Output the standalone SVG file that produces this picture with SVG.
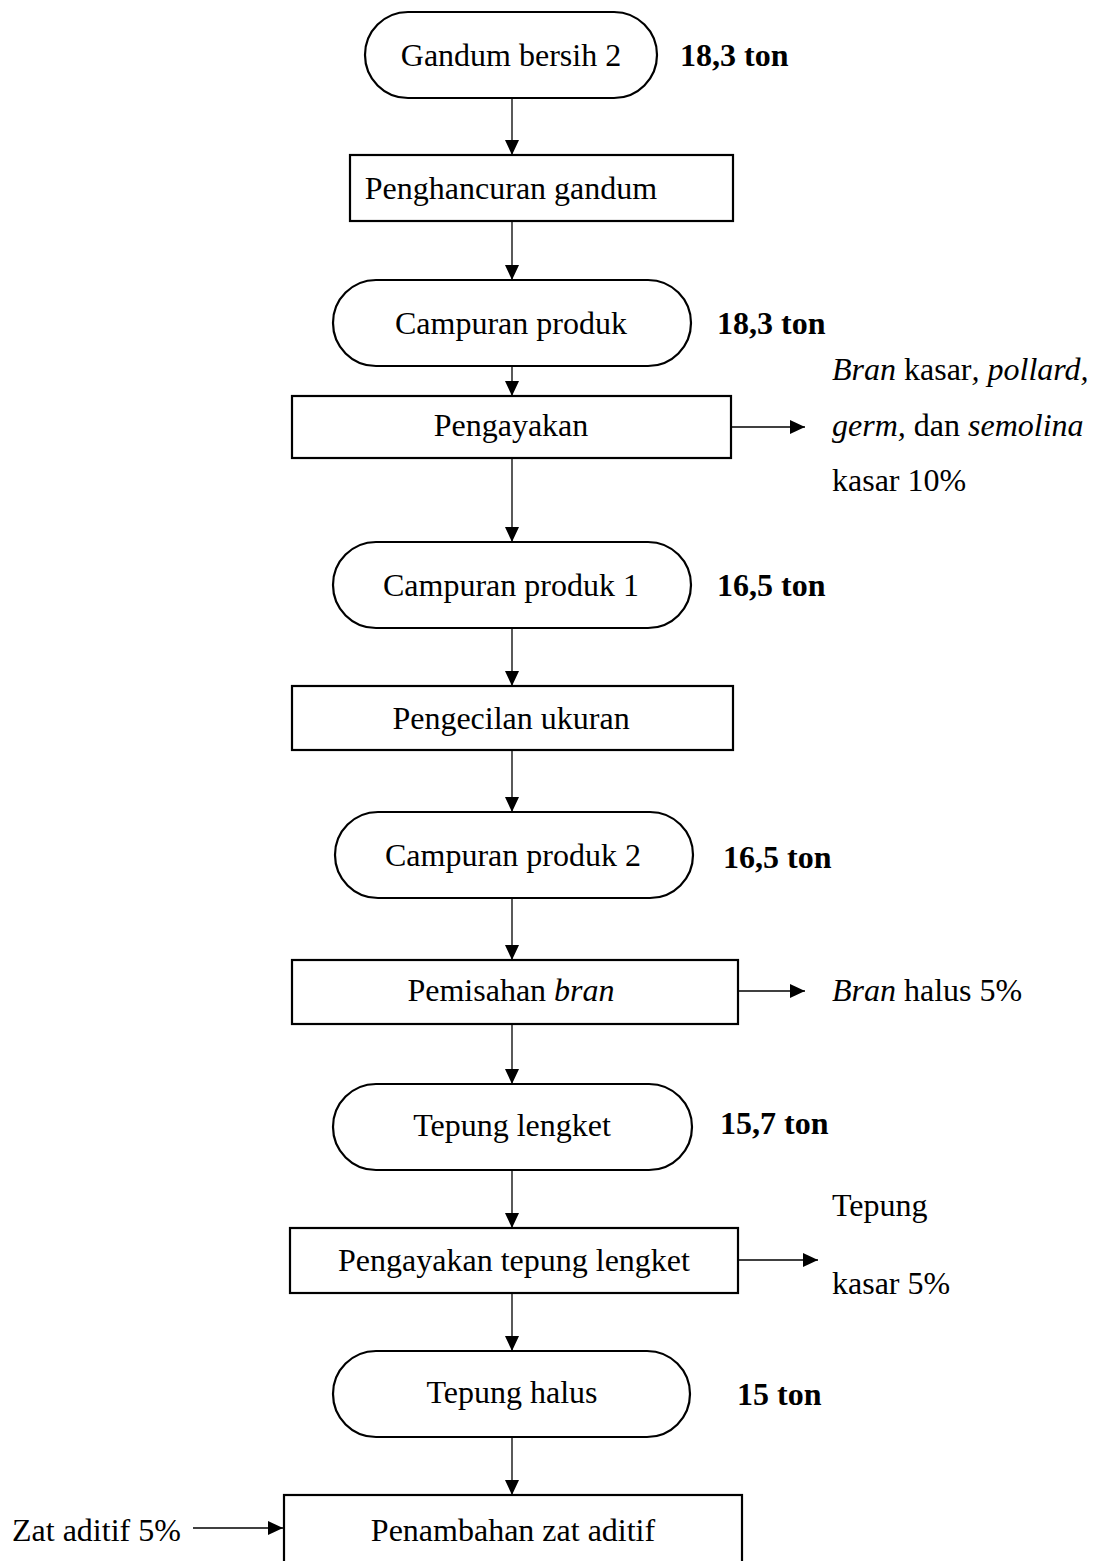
<svg xmlns="http://www.w3.org/2000/svg" width="1106" height="1561" viewBox="0 0 1106 1561">
<style>
text{font-family:"Liberation Serif","Times New Roman",serif;font-size:32px;fill:#000}
.c{text-anchor:middle}
.b{font-weight:bold}
.n{fill:#fff;stroke:#000;stroke-width:2.2}
.e{stroke:#000;stroke-width:1.3;fill:none}
</style>
<defs>
<marker id="ah" markerWidth="15" markerHeight="14" refX="15" refY="7" orient="auto" markerUnits="userSpaceOnUse">
<path d="M0,0 L15,7 L0,14 Z" fill="#000"/>
</marker>
</defs>
<rect width="1106" height="1561" fill="#fff"/>
<g id="connectors">
<line class="e" x1="512" y1="98" x2="512" y2="155" marker-end="url(#ah)"/>
<line class="e" x1="512" y1="221" x2="512" y2="280" marker-end="url(#ah)"/>
<line class="e" x1="512" y1="366" x2="512" y2="396" marker-end="url(#ah)"/>
<line class="e" x1="731" y1="427" x2="805" y2="427" marker-end="url(#ah)"/>
<line class="e" x1="512" y1="458" x2="512" y2="542" marker-end="url(#ah)"/>
<line class="e" x1="512" y1="628" x2="512" y2="686" marker-end="url(#ah)"/>
<line class="e" x1="512" y1="750" x2="512" y2="812" marker-end="url(#ah)"/>
<line class="e" x1="512" y1="898" x2="512" y2="960" marker-end="url(#ah)"/>
<line class="e" x1="738" y1="991" x2="805" y2="991" marker-end="url(#ah)"/>
<line class="e" x1="512" y1="1024" x2="512" y2="1084" marker-end="url(#ah)"/>
<line class="e" x1="512" y1="1170" x2="512" y2="1228" marker-end="url(#ah)"/>
<line class="e" x1="738" y1="1260" x2="818" y2="1260" marker-end="url(#ah)"/>
<line class="e" x1="512" y1="1293" x2="512" y2="1351" marker-end="url(#ah)"/>
<line class="e" x1="512" y1="1437" x2="512" y2="1495" marker-end="url(#ah)"/>
<line class="e" x1="193" y1="1528" x2="283" y2="1528" marker-end="url(#ah)"/>
</g>
<g id="n1"><rect class="n" x="365" y="12" width="292" height="86" rx="43"/><text class="c" x="511" y="66">Gandum bersih 2</text></g>
<g id="w1"><text class="b" x="680" y="66">18,3 ton</text></g>
<g id="n2"><rect class="n" x="350" y="155" width="383" height="66"/><text class="c" x="511" y="199">Penghancuran gandum</text></g>
<g id="n3"><rect class="n" x="333" y="280" width="358" height="86" rx="43"/><text class="c" x="511" y="334">Campuran produk</text></g>
<g id="w3"><text class="b" x="717" y="334">18,3 ton</text></g>
<g id="n4"><rect class="n" x="292" y="396" width="439" height="62"/><text class="c" x="511" y="436">Pengayakan</text></g>
<g id="o4"><text x="832" y="380"><tspan font-style="italic">Bran</tspan> kasar<tspan font-style="italic">, pollard,</tspan></text><text x="832" y="436"><tspan font-style="italic">germ,</tspan> dan <tspan font-style="italic">semolina</tspan></text><text x="832" y="491">kasar 10%</text></g>
<g id="n5"><rect class="n" x="333" y="542" width="358" height="86" rx="43"/><text class="c" x="511" y="596">Campuran produk 1</text></g>
<g id="w5"><text class="b" x="717" y="596">16,5 ton</text></g>
<g id="n6"><rect class="n" x="292" y="686" width="441" height="64"/><text class="c" x="511" y="729">Pengecilan ukuran</text></g>
<g id="n7"><rect class="n" x="335" y="812" width="358" height="86" rx="43"/><text class="c" x="513" y="866">Campuran produk 2</text></g>
<g id="w7"><text class="b" x="723" y="868">16,5 ton</text></g>
<g id="n8"><rect class="n" x="292" y="960" width="446" height="64"/><text class="c" x="511" y="1001">Pemisahan <tspan font-style="italic">bran</tspan></text></g>
<g id="o8"><text x="832" y="1001"><tspan font-style="italic">Bran</tspan> halus 5%</text></g>
<g id="n9"><rect class="n" x="333" y="1084" width="359" height="86" rx="43"/><text class="c" x="512" y="1136">Tepung lengket</text></g>
<g id="w9"><text class="b" x="720" y="1134">15,7 ton</text></g>
<g id="n10"><rect class="n" x="290" y="1228" width="448" height="65"/><text class="c" x="514" y="1271">Pengayakan tepung lengket</text></g>
<g id="o10"><text x="832" y="1216">Tepung</text><text x="832" y="1294">kasar 5%</text></g>
<g id="n11"><rect class="n" x="333" y="1351" width="357" height="86" rx="43"/><text class="c" x="512" y="1403">Tepung halus</text></g>
<g id="w11"><text class="b" x="737" y="1405">15 ton</text></g>
<g id="n12"><rect class="n" x="284" y="1495" width="458" height="80"/><text class="c" x="513" y="1541">Penambahan zat aditif</text></g>
<g id="i12"><text x="12" y="1541">Zat aditif 5%</text></g>
</svg>
